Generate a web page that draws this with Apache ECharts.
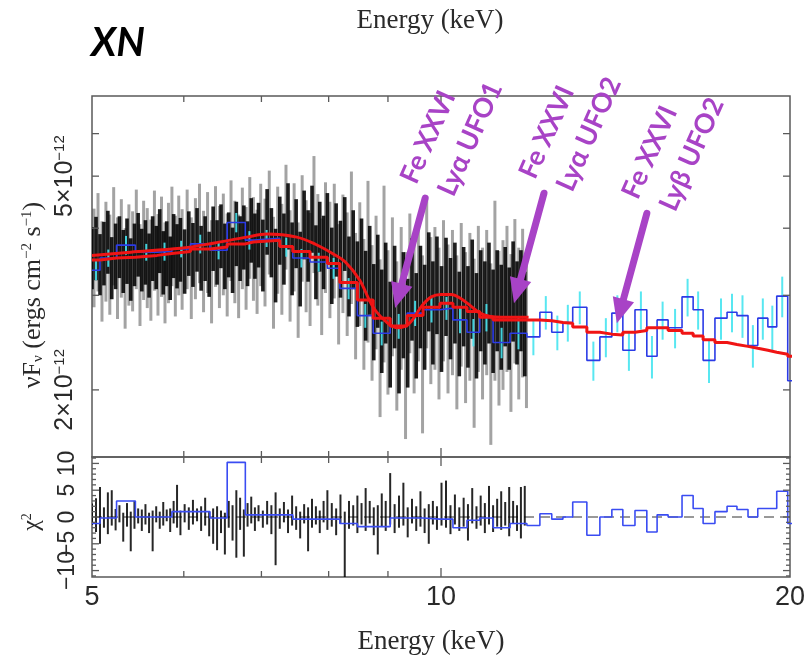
<!DOCTYPE html>
<html>
<head>
<meta charset="utf-8">
<script src="https://cdn.jsdelivr.net/npm/echarts@6/dist/echarts.min.js"></script>
<style>
  html, body { margin: 0; padding: 0; background: #fff; }
  #chart { width: 808px; height: 662px; }
</style>
</head>
<body>
<div id="chart"></div>
<script>
// ---- Finely binned spectrum (dark set): energy (keV) and flux error bar limits (1e-12 erg cm^-2 s^-1)
const darkEnergy = [
  5.00,5.04,5.08,5.12,5.16,5.20,5.24,5.28,5.32,5.36,5.40,5.44,5.48,5.52,5.56,5.60,5.64,5.68,5.72,5.76,5.80,5.84,5.88,5.92,5.96,
  6.01,6.06,6.11,6.16,6.21,6.26,6.31,6.36,6.41,6.46,6.51,6.56,6.61,6.66,6.71,6.76,6.81,6.86,6.91,6.96,
  7.02,7.08,7.14,7.20,7.26,7.32,7.38,7.44,7.50,7.56,7.62,7.68,7.74,7.80,7.86,7.92,7.98,
  8.05,8.12,8.19,8.26,8.33,8.40,8.47,8.54,8.61,8.68,8.75,8.82,8.89,8.96,
  9.04,9.12,9.20,9.28,9.36,9.44,9.52,9.60,9.68,9.76,9.84,9.92,
  10.01,10.10,10.19,10.28,10.37,10.46,10.55,10.64,10.73,10.82,10.91,11.00,11.09,11.18,11.27,
  11.36,11.45,11.54,11.63,11.72,11.81
];
const darkLow = [
  3.08,3.20,3.00,3.13,3.29,2.95,3.08,3.23,3.03,3.15,2.93,3.12,3.25,3.05,3.14,2.97,3.19,3.08,3.30,3.01,3.12,2.94,3.23,3.09,3.18,
  3.02,3.26,3.11,3.32,3.06,3.19,2.98,3.33,3.14,3.37,3.08,3.24,3.03,3.40,3.19,3.35,3.12,3.45,3.22,3.38,
  3.05,3.57,3.24,2.91,3.42,3.14,3.65,3.00,3.37,2.86,3.50,3.18,3.60,2.95,3.32,3.08,3.45,
  2.89,3.25,2.97,3.33,2.74,3.08,2.62,2.93,2.47,2.76,2.27,2.61,2.15,2.44,
  2.02,2.39,1.97,2.29,2.02,2.47,2.10,2.39,2.18,2.57,2.23,2.54,
  2.16,2.52,2.28,2.44,2.12,2.41,2.20,2.49,2.10,2.36,2.23,2.44,2.15,2.36,2.18,
  2.41,2.18,2.46,2.23,2.36,2.12
];
const darkHigh = [
  4.02,4.20,3.90,4.11,4.31,3.85,4.08,4.21,3.97,4.17,3.83,4.08,4.27,3.99,4.14,3.91,4.21,4.04,4.34,3.95,4.12,3.86,4.25,4.07,4.18,
  3.98,4.30,4.09,4.36,4.04,4.21,3.94,4.39,4.14,4.43,4.08,4.28,4.01,4.48,4.21,4.41,4.12,4.55,4.26,4.46,
  4.15,4.73,4.36,3.99,4.58,4.26,4.85,4.10,4.53,3.94,4.70,4.32,4.80,4.05,4.48,4.22,4.65,
  4.01,4.45,4.13,4.57,3.86,4.32,3.78,4.17,3.63,4.04,3.43,3.89,3.35,3.76,
  3.18,3.71,3.13,3.61,3.22,3.83,3.30,3.71,3.42,3.93,3.47,3.86,
  3.40,3.84,3.52,3.76,3.32,3.69,3.40,3.81,3.30,3.64,3.47,3.76,3.35,3.64,3.42,
  3.69,3.38,3.78,3.47,3.64,3.32
];

// ---- Finely binned spectrum (pale set)
const paleEnergy = [
  5.02,5.06,5.10,5.14,5.18,5.22,5.26,5.30,5.34,5.38,5.42,5.46,5.50,5.54,5.58,5.62,5.66,5.70,5.74,5.78,5.82,5.86,5.90,5.94,5.98,
  6.04,6.09,6.14,6.19,6.24,6.29,6.34,6.39,6.44,6.49,6.54,6.59,6.64,6.69,6.74,6.79,6.84,6.89,6.94,6.99,
  7.05,7.11,7.17,7.23,7.29,7.35,7.41,7.47,7.53,7.59,7.65,7.71,7.77,7.83,7.89,7.95,
  8.02,8.09,8.16,8.23,8.30,8.37,8.44,8.51,8.58,8.65,8.72,8.79,8.86,8.93,9.00,
  9.08,9.16,9.24,9.32,9.40,9.48,9.56,9.64,9.72,9.80,9.88,9.96,
  10.05,10.14,10.23,10.32,10.41,10.50,10.59,10.68,10.77,10.86,10.95,11.04,11.13,11.22,11.31,
  11.40,11.49,11.58,11.67,11.76,11.85
];
const paleLow = [
  2.85,3.05,2.68,2.92,2.76,3.13,2.71,2.97,2.60,2.87,2.80,3.08,2.63,2.94,2.84,2.69,3.06,2.75,2.98,2.66,2.90,3.12,2.74,3.00,2.82,
  3.08,2.71,2.95,3.16,2.79,3.03,2.66,3.11,2.84,3.00,2.74,3.19,2.90,2.72,3.08,2.82,3.22,2.93,2.77,3.12,
  2.86,3.28,2.60,3.02,2.76,3.35,2.68,3.05,2.50,3.18,2.79,2.63,3.30,2.87,2.53,3.03,
  2.72,2.96,2.43,2.78,2.52,2.89,2.28,2.63,2.18,2.45,2.08,2.38,1.78,2.25,1.96,
  2.31,1.83,2.18,1.62,2.34,1.97,2.26,1.66,2.39,2.05,2.18,1.92,
  2.26,1.97,2.13,1.84,2.21,1.89,2.08,1.70,2.16,1.92,2.13,1.58,2.08,1.87,2.00,
  2.16,1.82,2.24,1.92,2.11,1.85
];
const paleHigh = [
  4.35,4.65,4.12,4.48,4.24,4.77,4.19,4.53,4.00,4.43,4.30,4.72,4.07,4.50,4.36,4.15,4.70,4.25,4.58,4.10,4.46,4.78,4.22,4.60,4.34,
  4.72,4.19,4.55,4.84,4.31,4.67,4.14,4.79,4.40,4.64,4.26,4.91,4.50,4.24,4.76,4.38,4.98,4.57,4.33,4.84,
  4.54,5.12,4.20,4.78,4.44,5.25,4.32,4.85,4.10,5.02,4.51,4.27,5.45,4.63,4.17,4.87,
  4.48,4.84,4.07,4.62,4.28,5.10,3.92,4.47,3.82,4.90,3.72,4.22,3.50,4.80,3.64,
  4.19,3.47,4.02,3.61,4.26,3.73,4.14,3.56,4.55,3.85,4.02,3.68,
  4.14,3.73,3.97,3.56,4.09,3.61,3.92,3.51,4.04,3.68,3.97,3.44,4.50,3.63,3.80,
  4.04,3.58,4.16,3.68,3.99,3.65
];

// ---- Residuals of the dark set (same energies as darkEnergy)
const darkResLow = [
  -1.5,-2.8,-5.0,-2.0,-3.2,-1.6,-2.5,-1.0,-4.6,-1.8,-6.4,-2.2,-1.2,-2.6,-1.4,-3.0,-6.4,-1.0,-2.2,-1.6,-0.8,-2.8,-1.2,-2.0,-3.4,
  -1.0,-2.4,-1.4,-0.8,-2.6,-1.6,-3.6,-5.0,-6.2,-3.0,-7.0,-2.0,-4.4,-7.6,-2.4,-7.4,-1.8,-1.2,-2.6,-0.8,
  -2.0,-1.4,-3.2,-9.0,-2.2,-1.0,-3.0,-1.6,-2.4,-4.0,-1.2,-6.4,-2.0,-1.4,-3.0,-1.0,-2.4,
  -1.8,-3.4,-1.2,-11.2,-2.2,-1.6,-3.0,-1.4,-2.6,-1.2,-3.4,-7.0,-1.8,-2.6,
  -1.4,-3.0,-2.0,-1.6,-3.8,-1.2,-2.6,-1.8,-3.0,-5.0,-1.4,-2.4,
  -1.6,-2.0,-3.2,-1.4,-2.6,-1.8,-4.4,-1.2,-2.2,-1.6,-3.0,-1.4,-2.8,-1.8,-2.4,
  -1.6,-3.6,-1.2,-2.6,-4.0,-1.6
];
const darkResHigh = [
  2.5,3.5,5.6,1.8,4.6,5.0,1.5,2.2,0.8,2.6,1.0,3.0,1.6,1.4,2.4,0.8,1.2,2.0,1.0,2.8,1.4,1.6,3.0,6.0,1.2,
  2.4,1.8,3.2,1.6,2.0,3.6,1.0,1.6,2.0,1.2,0.8,3.0,2.2,5.0,3.6,1.4,2.6,3.8,1.8,2.2,
  1.2,3.0,2.2,4.6,1.6,2.8,1.4,4.0,2.0,1.0,2.4,1.8,3.4,2.0,1.2,3.0,5.0,
  2.6,1.6,4.2,1.0,3.0,2.2,4.0,2.6,5.4,3.0,1.8,2.2,4.4,3.0,
  8.2,2.4,4.0,6.4,1.8,3.4,2.0,4.8,1.6,2.4,3.0,2.0,
  6.4,6.8,2.2,4.2,1.8,3.6,2.4,5.4,2.0,4.0,2.6,5.8,2.2,3.4,4.8,
  2.8,5.6,3.0,2.2,5.6,5.8
];

// ---- Grouped spectrum: bin edges (keV), flux, flux error, folded model and residual per bin
const binEdges = [
  5.00,5.08,5.25,5.45,5.69,5.86,6.08,6.32,6.54,6.78,6.89,7.26,7.45,7.71,7.98,8.18,8.47,8.74,9.04,9.35,9.65,9.98,10.24,10.53,10.80,11.09,
  11.47,11.86,12.17,12.46,12.74,12.99,13.36,13.71,14.04,14.35,14.70,15.05,15.36,15.70,16.14,16.50,16.83,17.23,17.65,18.00,18.40,18.76,
  19.14,19.48,19.91,20.30
];
const binFlux = [
  3.34,3.52,3.72,3.61,3.62,3.66,3.74,3.64,4.10,3.80,3.83,3.69,3.52,3.46,3.37,3.09,2.75,2.55,2.63,2.78,2.82,2.84,2.70,2.56,2.73,2.45,
  2.55,2.51,2.79,2.56,2.67,2.85,2.27,2.51,2.78,2.37,2.82,2.31,2.70,2.61,2.98,2.82,2.27,2.72,2.79,2.75,2.42,2.72,2.62,2.99,2.08
];
const binFluxErr = [
  0.14,0.13,0.15,0.13,0.14,0.13,0.15,0.14,0.17,0.15,0.14,0.15,0.14,0.14,0.15,0.14,0.14,0.13,0.14,0.15,0.15,0.14,0.15,0.15,0.16,0.16,
  0.17,0.19,0.20,0.19,0.21,0.20,0.19,0.21,0.22,0.20,0.23,0.21,0.22,0.22,0.24,0.23,0.21,0.24,0.23,0.25,0.22,0.24,0.25,0.26,0.24
];
const binModel = [
  3.49,3.52,3.53,3.56,3.59,3.62,3.66,3.69,3.74,3.77,3.80,3.70,3.62,3.53,3.44,3.17,2.94,2.72,2.63,2.75,2.85,2.90,2.85,2.80,2.73,2.70,
  2.70,2.70,2.69,2.67,2.66,2.62,2.56,2.54,2.53,2.56,2.58,2.61,2.61,2.58,2.55,2.52,2.48,2.45,2.43,2.41,2.39,2.37,2.35,2.33,2.31
];
const binResidual = [
  -1.2,-0.2,3.0,0,0,1.0,1.0,-0.2,10.2,0.4,0.4,0.4,-0.4,-0.4,-0.4,-1.2,-1.8,-1.8,-0.2,-0.2,-0.4,-0.4,-2.0,-0.6,-0.2,-2.0,
  -1.2,-1.6,0.6,-0.4,0,2.8,-3.4,0,1.4,-1.6,1.2,-2.8,0.4,0,4.0,1.6,-1.2,1.0,2.0,1.4,0,1.6,1.6,4.8,-1.2
];

// ---- Model folded at fine resolution
const modelEnergy = [5.00,5.40,5.96,6.36,6.80,7.08,7.51,7.80,8.06,8.27,8.51,8.74,9.00,9.18,9.39,9.63,9.81,10.00,10.20,10.40,10.60,10.80,11.03,11.27,11.90];
const modelFlux   = [3.56,3.61,3.67,3.75,3.85,3.90,3.85,3.73,3.59,3.46,3.20,2.85,2.66,2.61,2.66,2.87,2.98,3.01,3.01,2.96,2.87,2.78,2.74,2.73,2.73];

// ---- Axis ticks and labels
const energyTicks = [6, 7, 8, 9, 10];
const energyLabels = [5, 10, 20];
const fluxTicks = [2, 3, 4, 5, 6];
const fluxLabels = [2, 5];
const residTicks = [-11,-10,-9,-8,-7,-6,-5,-4,-3,-2,-1,0,1,2,3,4,5,6,7,8,9,10,11];
const residLabels = [-10, -5, 0, 5, 10];

// ---- Absorption line markers: arrow tip at (energy, flux)
const markEnergy = [9.13, 11.56, 14.18];
const markFlux = [2.84, 2.90, 2.66];
const markIon = ['Fe XXVI', 'Fe XXVI', 'Fe XXVI'];
const markTransition = ['Lyα UFO1', 'Lyα UFO2', 'Lyβ UFO2'];

// ---- Layout
const E_MIN = 5, E_MAX = 20;
const F_MIN = 1.5, F_MAX = 7.05;
const R_MIN = -11.2, R_MAX = 11.2;
const INK = '#2a2a2a';
const FRAME = '#5a5a5a';
const PURPLE = '#a843c6';
const SANS = '"Liberation Sans", Arial, sans-serif';
const SERIF = '"Liberation Serif", "Times New Roman", serif';

const chart = echarts.init(document.getElementById('chart'), null, { renderer: 'canvas' });

function errorBars(energies, lows, highs, color, width, grid, z) {
  return {
    type: 'custom', xAxisIndex: grid, yAxisIndex: grid, z: z, silent: true, clip: true,
    data: energies.map((e, i) => [e, lows[i], highs[i]]),
    encode: { x: 0, y: [1, 2] },
    renderItem: (params, api) => {
      const a = api.coord([api.value(0), api.value(1)]);
      const b = api.coord([api.value(0), api.value(2)]);
      return { type: 'line', shape: { x1: a[0], y1: a[1], x2: b[0], y2: b[1] },
               style: { stroke: color, lineWidth: width } };
    }
  };
}

function stepData(edges, values) {
  const d = values.map((v, i) => [edges[i], v]);
  d.push([edges[edges.length - 1], values[values.length - 1]]);
  return d;
}

const binCenter = binFlux.map((v, i) => Math.sqrt(binEdges[i] * binEdges[i + 1]));
const binLow = binFlux.map((v, i) => v - binFluxErr[i]);
const binHigh = binFlux.map((v, i) => v + binFluxErr[i]);

function tickLine(x1, y1, x2, y2) {
  return { type: 'line', shape: { x1, y1, x2, y2 }, style: { stroke: FRAME, lineWidth: 1.3 } };
}

// energy ticks on the bottom and top edges of a panel
function energyTickSeries(grid, yLo, yHi) {
  return {
    type: 'custom', xAxisIndex: grid, yAxisIndex: grid, z: 20, silent: true,
    data: energyTicks.map(v => [v, grid === 0 ? 3 : 0]),
    renderItem: (params, api) => {
      const e = api.value(0);
      const b = api.coord([e, yLo]);
      const t = api.coord([e, yHi]);
      const L = e === 10 ? 9 : 6;
      return { type: 'group', children: [tickLine(b[0], b[1], b[0], b[1] - L), tickLine(t[0], t[1], t[0], t[1] + L)] };
    }
  };
}

const option = {
  animation: false,
  backgroundColor: '#ffffff',
  grid: [
    { left: 92, top: 96, width: 698, height: 361, show: true, borderColor: FRAME, borderWidth: 1.5, backgroundColor: 'transparent' },
    { left: 92, top: 457, width: 698, height: 120, show: true, borderColor: FRAME, borderWidth: 1.5, backgroundColor: 'transparent' }
  ],
  xAxis: [
    { type: 'log', gridIndex: 0, min: E_MIN, max: E_MAX, show: false },
    { type: 'log', gridIndex: 1, min: E_MIN, max: E_MAX, show: false }
  ],
  yAxis: [
    { type: 'log', gridIndex: 0, min: F_MIN, max: F_MAX, show: false },
    { type: 'value', gridIndex: 1, min: R_MIN, max: R_MAX, show: false }
  ],
  series: [
    // upper panel: spectra
    errorBars(paleEnergy, paleLow, paleHigh, 'rgba(0,0,0,0.36)', 3, 0, 1),
    errorBars(darkEnergy, darkLow, darkHigh, 'rgba(0,0,0,0.88)', 3.6, 0, 2),
    errorBars(binCenter, binLow, binHigh, 'rgba(70,228,240,0.9)', 2, 0, 3),
    {
      type: 'line', xAxisIndex: 0, yAxisIndex: 0, z: 4, step: 'end', symbol: 'none', silent: true,
      data: stepData(binEdges, binFlux), lineStyle: { color: '#2b3be6', width: 1.6 }
    },
    {
      type: 'line', xAxisIndex: 0, yAxisIndex: 0, z: 5, step: 'end', symbol: 'none', silent: true,
      data: stepData(binEdges, binModel), lineStyle: { color: '#f01414', width: 3 }
    },
    {
      type: 'line', xAxisIndex: 0, yAxisIndex: 0, z: 6, smooth: 0.35, symbol: 'none', silent: true,
      data: modelEnergy.map((e, i) => [e, modelFlux[i]]), lineStyle: { color: '#f01414', width: 3 }
    },
    // lower panel: residuals
    {
      type: 'line', xAxisIndex: 1, yAxisIndex: 1, z: 1, symbol: 'none', silent: true,
      data: [[E_MIN, 0], [E_MAX, 0]], lineStyle: { color: '#333', width: 1, type: [10, 6] }
    },
    errorBars(darkEnergy, darkResLow, darkResHigh, 'rgba(0,0,0,0.85)', 2, 1, 2),
    {
      type: 'line', xAxisIndex: 1, yAxisIndex: 1, z: 4, step: 'end', symbol: 'none', silent: true,
      data: stepData(binEdges, binResidual), lineStyle: { color: '#3a4cf2', width: 1.6 }
    },
    // ticks
    energyTickSeries(0, F_MIN, F_MAX),
    energyTickSeries(1, R_MIN, R_MAX),
    {
      type: 'custom', xAxisIndex: 0, yAxisIndex: 0, z: 20, silent: true,
      data: fluxTicks.map(v => [6, v]),
      renderItem: (params, api) => {
        const v = api.value(1);
        const l = api.coord([E_MIN, v]);
        const r = api.coord([E_MAX, v]);
        return { type: 'group', children: [tickLine(l[0], l[1], l[0] + 7, l[1]), tickLine(r[0], r[1], r[0] - 7, r[1])] };
      }
    },
    {
      type: 'custom', xAxisIndex: 1, yAxisIndex: 1, z: 20, silent: true,
      data: residTicks.map(v => [6, v]),
      renderItem: (params, api) => {
        const v = api.value(1);
        const l = api.coord([E_MIN, v]);
        const r = api.coord([E_MAX, v]);
        const L = v % 5 === 0 ? 7 : 4;
        return { type: 'group', children: [tickLine(l[0], l[1], l[0] + L, l[1]), tickLine(r[0], r[1], r[0] - L, r[1])] };
      }
    },
    // tick labels
    {
      type: 'custom', xAxisIndex: 1, yAxisIndex: 1, z: 20, silent: true,
      data: energyLabels.map(v => [v, 0]),
      renderItem: (params, api) => {
        const e = api.value(0);
        const p = api.coord([e, R_MIN]);
        return { type: 'text', x: p[0], y: p[1] + 21,
                 style: { text: String(e), fontSize: 27, fontFamily: SANS, fill: INK, align: 'center', verticalAlign: 'middle' } };
      }
    },
    {
      type: 'custom', xAxisIndex: 0, yAxisIndex: 0, z: 20, silent: true,
      data: fluxLabels.map(v => [6, v]),
      renderItem: (params, api) => {
        const v = api.value(1);
        const p = api.coord([E_MIN, v]);
        return { type: 'text', x: p[0] - 27, y: p[1], rotation: Math.PI / 2,
                 style: { text: '{m|' + v + '×10}{e|−12}', align: 'center', verticalAlign: 'middle',
                          rich: { m: { fontSize: 25, fontFamily: SANS, fill: INK, verticalAlign: 'bottom' },
                                  e: { fontSize: 15, fontFamily: SANS, fill: INK, verticalAlign: 'top' } } } };
      }
    },
    {
      type: 'custom', xAxisIndex: 1, yAxisIndex: 1, z: 20, silent: true,
      data: residLabels.map(v => [6, v]),
      renderItem: (params, api) => {
        const v = api.value(1);
        const p = api.coord([E_MIN, v]);
        const t = v < 0 ? '−' + Math.abs(v) : String(v);
        return { type: 'text', x: p[0] - 24, y: p[1], rotation: Math.PI / 2,
                 style: { text: t, fontSize: 23, fontFamily: SANS, fill: INK, align: 'center', verticalAlign: 'middle' } };
      }
    }
  ]
};

chart.setOption(option);

// titles, panel label and line markers
const elements = [
  { type: 'text', x: 118, y: 43, style: { text: 'XN', font: 'italic bold 40px Lato, "Open Sans", sans-serif', fill: '#000', align: 'center', verticalAlign: 'middle' } },
  { type: 'text', x: 430, y: 21, style: { text: 'Energy (keV)', fontSize: 27, fontFamily: SERIF, fill: INK, align: 'center', verticalAlign: 'middle' } },
  { type: 'text', x: 431, y: 642, style: { text: 'Energy (keV)', fontSize: 27, fontFamily: SERIF, fill: INK, align: 'center', verticalAlign: 'middle' } },
  { type: 'text', x: 33, y: 295, rotation: Math.PI / 2,
    style: { text: '{a|νF}{s|ν}{a| (ergs cm}{p|−2}{a| s}{p|−1}{a|)}', align: 'center', verticalAlign: 'middle',
             rich: { a: { fontSize: 26, fontFamily: SERIF, fill: INK, verticalAlign: 'middle' },
                     s: { fontSize: 15, fontFamily: SERIF, fill: INK, verticalAlign: 'bottom' },
                     p: { fontSize: 15, fontFamily: SERIF, fill: INK, verticalAlign: 'top' } } } },
  { type: 'text', x: 32, y: 522, rotation: Math.PI / 2,
    style: { text: '{a|χ}{p|2}', align: 'center', verticalAlign: 'middle',
             rich: { a: { fontSize: 24, fontFamily: SERIF, fill: INK, verticalAlign: 'middle' },
                     p: { fontSize: 14, fontFamily: SERIF, fill: INK, verticalAlign: 'top' } } } }
];

const tailOffset = [30, -110];
const ionOffset = [33, -171];
const transOffset = [75, -169];
const tilt = 66 * Math.PI / 180;
const labelFont = 'bold 27px Lato, "Open Sans", sans-serif';

markEnergy.forEach((e, i) => {
  const tip = chart.convertToPixel({ gridIndex: 0 }, [e, markFlux[i]]);
  const tail = [tip[0] + tailOffset[0], tip[1] + tailOffset[1]];
  const dx = tip[0] - tail[0], dy = tip[1] - tail[1];
  const len = Math.hypot(dx, dy);
  const ux = dx / len, uy = dy / len;
  const headLen = 25, headHalf = 11;
  const base = [tip[0] - ux * headLen, tip[1] - uy * headLen];
  elements.push({ type: 'line', z: 100, shape: { x1: tail[0], y1: tail[1], x2: base[0] + ux * 3, y2: base[1] + uy * 3 },
                  style: { stroke: PURPLE, lineWidth: 7, lineCap: 'round' } });
  elements.push({ type: 'polygon', z: 100,
                  shape: { points: [tip, [base[0] - uy * headHalf, base[1] + ux * headHalf], [base[0] + uy * headHalf, base[1] - ux * headHalf]] },
                  style: { fill: PURPLE } });
  elements.push({ type: 'text', z: 100, x: tip[0] + ionOffset[0], y: tip[1] + ionOffset[1], rotation: tilt,
                  style: { text: markIon[i], font: labelFont, fill: PURPLE, align: 'center', verticalAlign: 'middle' } });
  elements.push({ type: 'text', z: 100, x: tip[0] + transOffset[0], y: tip[1] + transOffset[1], rotation: tilt,
                  style: { text: markTransition[i], font: labelFont, fill: PURPLE, align: 'center', verticalAlign: 'middle' } });
});

chart.setOption({ graphic: { elements: elements } });
</script>
</body>
</html>
